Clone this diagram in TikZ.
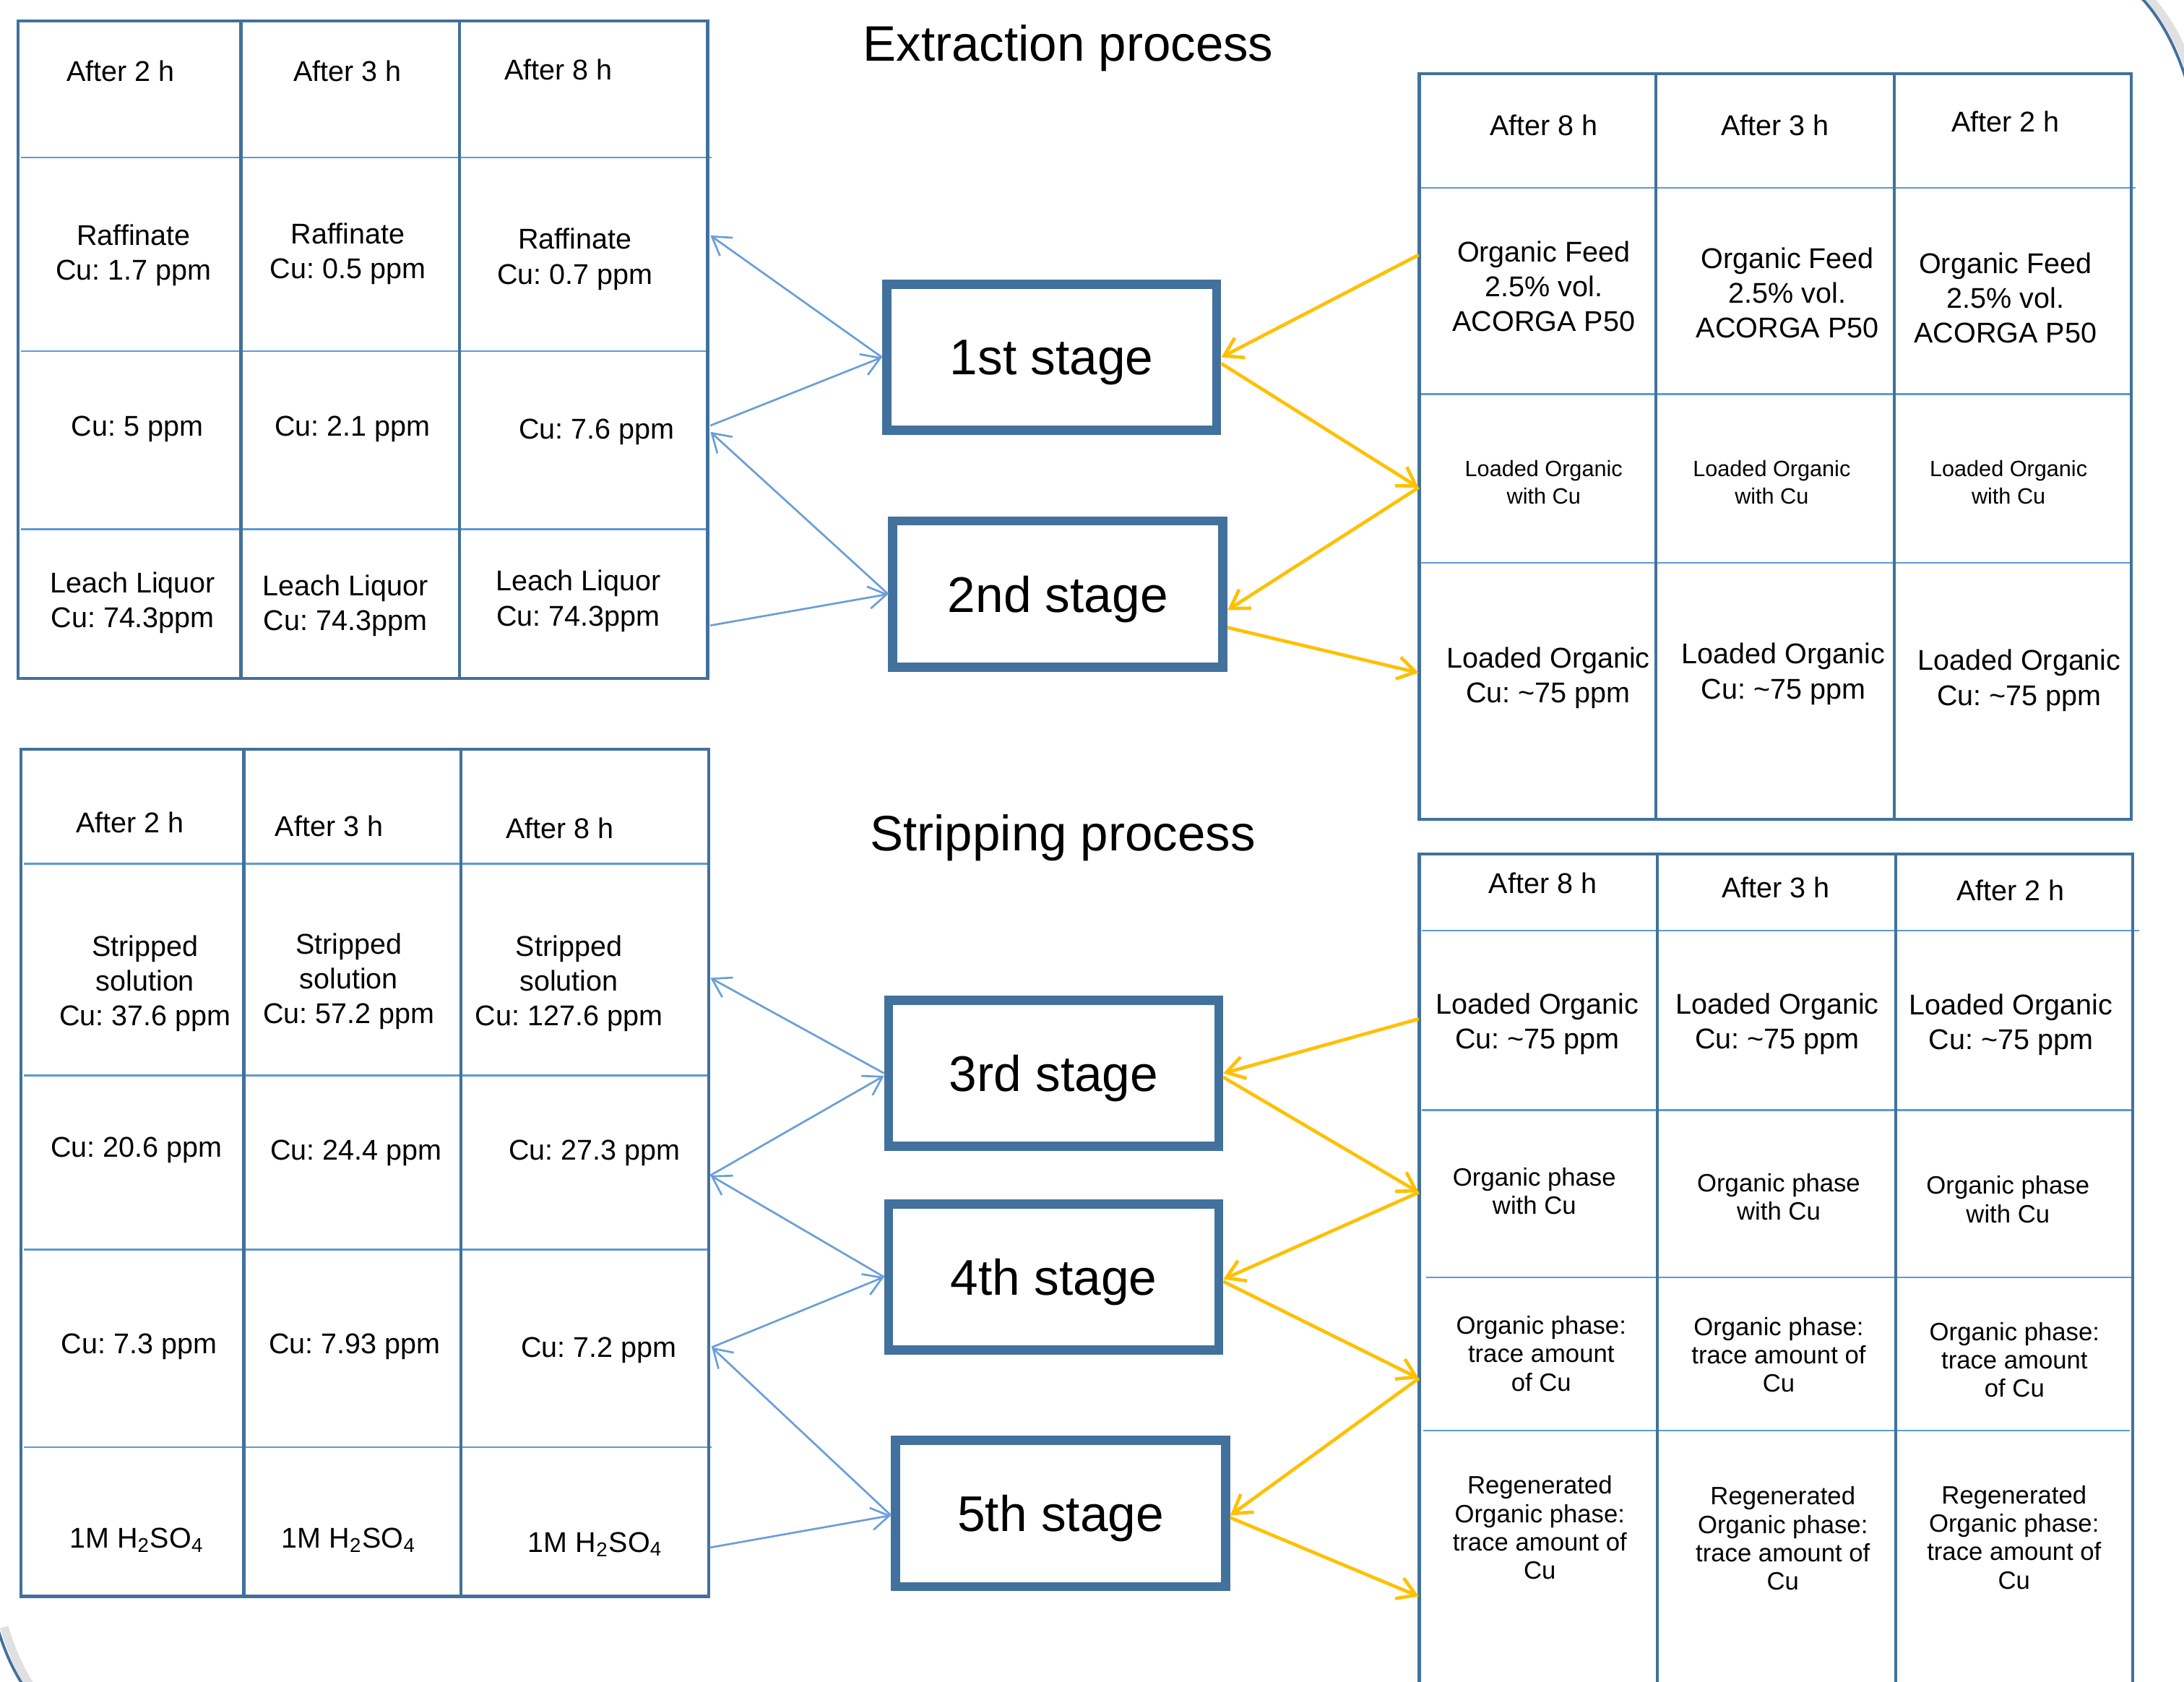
\documentclass[tikz,border=0pt]{standalone}
\usepackage{fontspec}
\setmainfont{Liberation Sans}
\usetikzlibrary{arrows.meta}
\definecolor{bdark}{HTML}{41719C}
\definecolor{blight}{HTML}{5B9BD5}
\definecolor{barrow}{HTML}{6A9FD8}
\definecolor{yarrow}{HTML}{FFC000}
\frenchspacing
\begin{document}
\begin{tikzpicture}[x=0.5pt,y=-0.5pt,
  tborder/.style={draw=bdark, line width=1.1pt},
  tinner/.style={draw=blight, line width=0.6pt},
  cell/.style={align=center, inner sep=0pt, text depth=0pt, font=\fontsize{10.25}{12.5}\selectfont},
  smallcell/.style={align=center, inner sep=0pt, text depth=0pt, font=\fontsize{7.95}{9.9}\selectfont},
  midcell/.style={align=center, inner sep=0pt, text depth=0pt, font=\fontsize{9}{10.2}\selectfont},
  stagebox/.style={draw=bdark, line width=3.3pt, minimum width=118.5pt, minimum height=52.5pt, inner sep=0pt, text depth=0pt, font=\fontsize{18}{20}\selectfont, fill=white},
  titletext/.style={inner sep=0pt, text depth=0pt, font=\fontsize{17.9}{20}\selectfont},
  barr/.style={draw=barrow, line width=0.7pt, -{Straight Barb[length=6.4pt,width=8pt]}},
  yarr/.style={draw=yarrow, line width=1.2pt, -{Straight Barb[length=6.4pt,width=8pt]}},
  arcline/.style={draw=bdark, line width=1pt},
  arcshadow/.style={draw=black!12, line width=3pt},
]
\fill[white] (0,0) rectangle (1568,1207);
\useasboundingbox (0,0) rectangle (1568,1207);
\clip (0,0) rectangle (1568,1207);

% corner arcs
\draw[arcshadow] (1542,-2) .. controls (1557,14) and (1568,35) .. (1576,62);
\draw[arcline] (1537,-2) .. controls (1552,14) and (1563,35) .. (1571,62);
\draw[arcshadow] (3,1168) .. controls (8,1184) and (13,1197) .. (23,1212);
\draw[arcline] (-2,1168) .. controls (3,1184) and (8,1197) .. (18,1212);

% ---------- top-left table ----------
\draw[tinner] (15,113) -- (511,113);
\draw[tinner] (15,252) -- (508,252);
\draw[tinner] (15,380) -- (508,380);
\draw[tborder] (173,15) -- (173,487);
\draw[tborder] (330,15) -- (330,487);
\draw[tborder] (13,15) rectangle (508,487);

% ---------- top-right table ----------
\draw[tinner] (1019,135) -- (1533,135);
\draw[tinner] (1019,283) -- (1530,283);
\draw[tinner] (1019,404) -- (1530,404);
\draw[tborder] (1189,53) -- (1189,588);
\draw[tborder] (1360,53) -- (1360,588);
\draw[tborder] (1019,53) rectangle (1530,588);

% ---------- bottom-left table ----------
\draw[tinner] (17,620) -- (509,620);
\draw[tinner] (17,772) -- (509,772);
\draw[tinner] (17,897) -- (509,897);
\draw[tinner] (17,1039) -- (511,1039);
\draw[tborder] (175,538) -- (175,1146);
\draw[tborder] (331,538) -- (331,1146);
\draw[tborder] (15,538) rectangle (509,1146);

% ---------- bottom-right table ----------
\draw[tinner] (1021,668) -- (1536,668);
\draw[tinner] (1021,797) -- (1531,797);
\draw[tinner] (1024,917) -- (1531,917);
\draw[tinner] (1022,1027) -- (1529,1027);
\draw[tborder] (1190,613) -- (1190,1212);
\draw[tborder] (1361,613) -- (1361,1212);
\draw[tborder] (1019,1212) -- (1019,613) -- (1531,613) -- (1531,1212);

% ---------- titles ----------
\node[titletext] (t1) at (767,31) {Extraction process};
\node[titletext] (t2) at (763,598) {Stripping process};

% ---------- top-left cells ----------
\node[cell] (tlh1) at (86.7,51) {After 2 h};
\node[cell] (tlh2) at (249.4,51) {After 3 h};
\node[cell] (tlh3) at (401,50) {After 8 h};
\node[cell] (tlr1) at (96,181) {Raffinate\\Cu: 1.7 ppm};
\node[cell] (tlr2) at (249.8,180) {Raffinate\\Cu: 0.5 ppm};
\node[cell] (tlr3) at (412.8,184) {Raffinate\\Cu: 0.7 ppm};
\node[cell] (tlc1) at (98.6,306) {Cu: 5 ppm};
\node[cell] (tlc2) at (253,306) {Cu: 2.1 ppm};
\node[cell] (tlc3) at (428.4,308) {Cu: 7.6 ppm};
\node[cell] (tll1) at (95.3,430.6) {Leach Liquor\\Cu: 74.3ppm};
\node[cell] (tll2) at (248,432.5) {Leach Liquor\\Cu: 74.3ppm};
\node[cell] (tll3) at (415.2,429.3) {Leach Liquor\\Cu: 74.3ppm};

% ---------- top-right cells ----------
\node[cell] (trh1) at (1108.3,89.7) {After 8 h};
\node[cell] (trh2) at (1274.4,89.7) {After 3 h};
\node[cell] (trh3) at (1439.8,87) {After 2 h};
\node[cell] (trf1) at (1108.3,205.5) {Organic Feed\\2.5\% vol.\\ACORGA P50};
\node[cell] (trf2) at (1283.3,210) {Organic Feed\\2.5\% vol.\\ACORGA P50};
\node[cell] (trf3) at (1439.8,213.7) {Organic Feed\\2.5\% vol.\\ACORGA P50};
\node[smallcell] (trw1) at (1108.3,346.3) {Loaded Organic\\with Cu};
\node[smallcell] (trw2) at (1272,346.3) {Loaded Organic\\with Cu};
\node[smallcell] (trw3) at (1442,346.3) {Loaded Organic\\with Cu};
\node[cell] (trl1) at (1111.6,484.5) {Loaded Organic\\Cu: \textasciitilde75 ppm};
\node[cell] (trl2) at (1280.3,481.7) {Loaded Organic\\Cu: \textasciitilde75 ppm};
\node[cell] (trl3) at (1449.7,486.3) {Loaded Organic\\Cu: \textasciitilde75 ppm};

% ---------- bottom-left cells ----------
\node[cell] (blh1) at (93.3,590.3) {After 2 h};
\node[cell] (blh2) at (236.2,592.8) {After 3 h};
\node[cell] (blh3) at (402,594.4) {After 8 h};
\node[cell] (bls1) at (104.2,704) {Stripped\\solution\\Cu: 37.6 ppm};
\node[cell] (bls2) at (250.4,702.5) {Stripped\\solution\\Cu: 57.2 ppm};
\node[cell] (bls3) at (408.5,704) {Stripped\\solution\\Cu: 127.6 ppm};
\node[cell] (blc1) at (97.9,823.6) {Cu: 20.6 ppm};
\node[cell] (blc2) at (255.7,825.6) {Cu: 24.4 ppm};
\node[cell] (blc3) at (426.7,825.6) {Cu: 27.3 ppm};
\node[cell] (bld1) at (99.9,964.8) {Cu: 7.3 ppm};
\node[cell] (bld2) at (254.7,964.8) {Cu: 7.93 ppm};
\node[cell] (bld3) at (430,967.3) {Cu: 7.2 ppm};
\node[cell] (blm1) at (98.2,1104) {1M H\textsubscript{2}SO\textsubscript{4}};
\node[cell] (blm2) at (250.4,1104) {1M H\textsubscript{2}SO\textsubscript{4}};
\node[cell] (blm3) at (427.4,1107) {1M H\textsubscript{2}SO\textsubscript{4}};

% ---------- bottom-right cells ----------
\node[cell] (brh1) at (1107.6,633.7) {After 8 h};
\node[cell] (brh2) at (1275,637.2) {After 3 h};
\node[cell] (brh3) at (1443.4,639.2) {After 2 h};
\node[cell] (brl1) at (1103.7,733) {Loaded Organic\\Cu: \textasciitilde75 ppm};
\node[cell] (brl2) at (1276,733) {Loaded Organic\\Cu: \textasciitilde75 ppm};
\node[cell] (brl3) at (1443.8,733.7) {Loaded Organic\\Cu: \textasciitilde75 ppm};
\node[midcell] (brp1) at (1101.6,855) {Organic phase\\with Cu};
\node[midcell] (brp2) at (1277,859.2) {Organic phase\\with Cu};
\node[midcell] (brp3) at (1441.6,861) {Organic phase\\with Cu};
\node[midcell] (brt1) at (1106.5,971.6) {Organic phase:\\trace amount\\of Cu};
\node[midcell] (brt2) at (1277,972.4) {Organic phase:\\trace amount of\\Cu};
\node[midcell] (brt3) at (1446.3,976.2) {Organic phase:\\trace amount\\of Cu};
\node[midcell] (brg1) at (1105.5,1096.7) {Regenerated\\Organic phase:\\trace amount of\\Cu};
\node[midcell] (brg2) at (1280,1104.4) {Regenerated\\Organic phase:\\trace amount of\\Cu};
\node[midcell] (brg3) at (1446,1103.6) {Regenerated\\Organic phase:\\trace amount of\\Cu};

% ---------- stages ----------
\node[stagebox] (s1) at (755,256.5) {1st stage};
\node[stagebox] (s2) at (759.5,426.5) {2nd stage};
\node[stagebox] (s3) at (756.5,770.5) {3rd stage};
\node[stagebox] (s4) at (756.5,916.75) {4th stage};
\node[stagebox] (s5) at (761.5,1086.5) {5th stage};

% ---------- connector end points on tables ----------
\coordinate (tlA) at (510,169);
\coordinate (tlB) at (510,305.5);
\coordinate (tlC) at (510,310);
\coordinate (tlD) at (510,449);
\coordinate (trA) at (1018.5,183);
\coordinate (trB) at (1018.5,350);
\coordinate (trC) at (1018.5,483);
\coordinate (blA) at (510,702);
\coordinate (blB) at (510,843.8);
\coordinate (blC) at (511,967.2);
\coordinate (blD) at (509.5,1111);
\coordinate (brA) at (1018.5,731.5);
\coordinate (brB) at (1018.6,856);
\coordinate (brC) at (1018.6,989.5);
\coordinate (brD) at (1018.6,1146);

% ---------- extraction connectors ----------
\draw[barr] (s1.west) -- (tlA);
\draw[barr] (tlB) -- (s1.west);
\draw[barr] (s2.west) -- (tlC);
\draw[barr] (tlD) -- (s2.west);
\draw[yarr] (trA) -- (s1.east);
\draw[yarr] ([yshift=-2.2pt]s1.east) -- (trB);
\draw[yarr] (trB) -- ([yshift=-5.75pt]s2.east);
\draw[yarr] ([yshift=-12pt]s2.east) -- (trC);

% ---------- stripping connectors ----------
\draw[barr] (s3.west) -- (blA);
\draw[barr] (blB) -- ([yshift=-0.9pt]s3.west);
\draw[barr] (s4.west) -- (blB);
\draw[barr] (blC) -- (s4.west);
\draw[barr] ([yshift=-0.7pt]s5.west) -- (blC);
\draw[barr] (blD) -- ([yshift=-0.7pt]s5.west);
\draw[yarr] (brA) -- (s3.east);
\draw[yarr] ([yshift=-1.4pt]s3.east) -- (brB);
\draw[yarr] (brB) -- ([yshift=-0.8pt]s4.east);
\draw[yarr] ([yshift=-1.6pt]s4.east) -- (brC);
\draw[yarr] (brC) -- ([yshift=-0.7pt]s5.east);
\draw[yarr] ([yshift=-1.5pt]s5.east) -- (brD);
\end{tikzpicture}
\end{document}
